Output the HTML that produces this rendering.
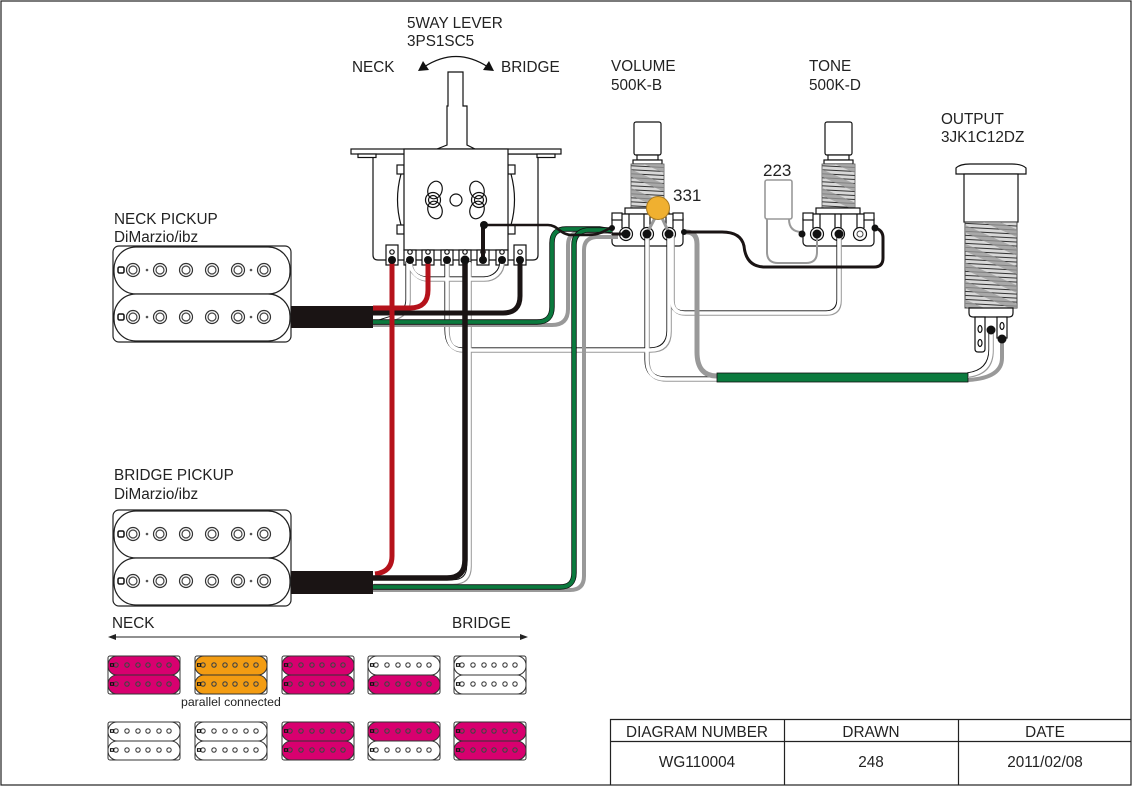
<!DOCTYPE html>
<html><head><meta charset="utf-8"><style>
html,body{margin:0;padding:0;background:#fff;width:1132px;height:787px;overflow:hidden}
svg{display:block}
text{font-family:"Liberation Sans",sans-serif;font-size:15.3px;fill:#222}
.l{fill:none;stroke:#111;stroke-width:1.2}
.f{fill:#fff;stroke:#111;stroke-width:1.2}
.w{fill:none;stroke-linejoin:round}
</style></head><body>
<svg width="1132" height="787" viewBox="0 0 1132 787" xmlns="http://www.w3.org/2000/svg">
<defs>
<pattern id="thr" width="8" height="4" patternUnits="userSpaceOnUse" patternTransform="rotate(3)">
<rect width="8" height="4" fill="#d8d8d8"/><rect y="0" width="8" height="1" fill="#333"/>
</pattern>
<pattern id="dia" width="30" height="17" patternUnits="userSpaceOnUse" patternTransform="rotate(24)">
<rect width="30" height="7" fill="#999" opacity=".75"/>
</pattern>
<g id="hole"><circle r="6.5" fill="#fff" stroke="#333" stroke-width="1.2"/><circle r="4" fill="#fff" stroke="#444" stroke-width="1.2"/></g>
<g id="row">
<use href="#hole" x="133"/><use href="#hole" x="160"/><use href="#hole" x="186"/><use href="#hole" x="212"/><use href="#hole" x="238"/><use href="#hole" x="264"/>
<circle cx="147" r="1.3" fill="#555"/><circle cx="251" r="1.3" fill="#555"/>
<rect x="118" y="-3" width="6" height="6" rx="1.5" fill="#fff" stroke="#111" stroke-width="1.5"/>
</g>
<g id="pick">
<rect x="113" y="0" width="178" height="96" rx="6" fill="#fff" stroke="#222" stroke-width="1.2"/>
<rect x="114" y="1" width="176" height="47" rx="22" fill="#fff" stroke="#222" stroke-width="1.2"/>
<rect x="114" y="48" width="176" height="47" rx="22" fill="#fff" stroke="#222" stroke-width="1.2"/>
<use href="#row" y="24"/><use href="#row" y="71"/>
</g>
<g id="sr" fill="none" stroke="#444" stroke-width="1.1">
<circle cx="8" r="2.2"/><circle cx="19" r="2.2"/><circle cx="30" r="2.2"/><circle cx="40" r="2.2"/><circle cx="51" r="2.2"/><circle cx="61" r="2.2"/>
<rect x="2.5" y="-1.3" width="3" height="2.6" stroke="#111"/>
</g>
<g id="pot">
<rect x="634" y="122" width="27" height="33" rx="2" class="f"/>
<rect x="637" y="155" width="21" height="5" class="f"/>
<rect x="633" y="160" width="29" height="4" class="f"/>
<rect x="631" y="164" width="33" height="44" fill="url(#thr)" stroke="#555" stroke-width=".8"/>
<rect x="631" y="164" width="33" height="44" fill="url(#dia)"/>
<rect x="625" y="208" width="44" height="6" class="f"/>
<rect x="612" y="214" width="71" height="32" rx="4" class="f"/>
<path class="l" d="M622 220V228M629 214V228M644 214V228M650 214V228M666 214V228M673 220V228"/>
<rect x="612" y="213" width="10" height="7" class="f"/><rect x="673" y="213" width="10" height="7" class="f"/>
<circle cx="626" cy="234" r="6.5" class="f"/><circle cx="647" cy="234" r="6.5" class="f"/><circle cx="669" cy="234" r="6.5" class="f"/>
</g>
<path id="wa" d="M410 262C410 272 418 279 428 279H484C494 279 502 272 502 262"/>
<path id="wb" d="M408 262V300Q408 312 396 317L380 322"/>
<path id="wc" d="M447 262V330Q447 350 463 350H650Q669 350 669 331V236"/>
<path id="wd" d="M469 262V566Q469 582 453 582H373"/>
<path id="we" d="M672 236V300Q672 313 685 313H826Q839 313 839 300V236"/>
<path id="wf" d="M647 236V360Q647 379 666 379H717"/>
<path id="wg" d="M991 333V350Q991 372 968 375"/>
</defs>

<rect x="1" y="1" width="1130" height="784" fill="#fff" stroke="#222" stroke-width="1.2"/>

<text x="407" y="28">5WAY LEVER</text><text x="407" y="46">3PS1SC5</text>
<text x="352" y="72">NECK</text><text x="501" y="72">BRIDGE</text>
<text x="611" y="71">VOLUME</text><text x="611" y="90">500K-B</text>
<text x="809" y="71">TONE</text><text x="809" y="90">500K-D</text>
<text x="941" y="124">OUTPUT</text><text x="941" y="142">3JK1C12DZ</text>
<text x="114" y="224">NECK PICKUP</text><text x="114" y="242">DiMarzio/ibz</text>
<text x="114" y="480">BRIDGE PICKUP</text><text x="114" y="499">DiMarzio/ibz</text>
<text x="673" y="201" style="font-size:17px">331</text><text x="763" y="176" style="font-size:17px">223</text>

<path class="l" d="M424 67Q456 46 488 67"/>
<path d="M418 71L429 70L423 61ZM494 71L483 70L489 61Z" fill="#111"/>

<!-- switch -->
<path class="f" d="M373 154V255Q373 260 378 260H533Q538 260 538 255V154Z"/>
<rect x="351" y="149" width="210" height="5" class="f"/>
<rect x="358" y="154" width="18" height="3.5" class="f"/><rect x="537" y="154" width="18" height="3.5" class="f"/>
<path class="f" d="M437 149L447 145V106H448V72H463V106H467V145L475 149Z"/>
<path class="l" d="M401 174Q394 200 401 225M511 174Q518 200 511 225"/>
<rect x="397" y="165" width="7" height="9" class="f"/><rect x="397" y="225" width="7" height="9" class="f"/>
<rect x="508" y="165" width="7" height="9" class="f"/><rect x="508" y="225" width="7" height="9" class="f"/>
<rect x="404" y="149" width="104" height="101" class="f"/>
<circle cx="456" cy="200" r="6" class="f"/>
<ellipse cx="435" cy="190" rx="7" ry="9" class="l" transform="rotate(20 435 190)"/>
<ellipse cx="435" cy="210" rx="7" ry="9" class="l" transform="rotate(-20 435 210)"/>
<circle cx="433" cy="200" r="7.5" class="l"/><circle cx="433" cy="200" r="4.5" class="l"/>
<ellipse cx="477" cy="190" rx="7" ry="9" class="l" transform="rotate(-20 477 190)"/>
<ellipse cx="477" cy="210" rx="7" ry="9" class="l" transform="rotate(20 477 210)"/>
<circle cx="479" cy="200" r="7.5" class="l"/><circle cx="479" cy="200" r="4.5" class="l"/>
<g class="f">
<rect x="386" y="245" width="12" height="20"/><rect x="404" y="250" width="12" height="15"/><rect x="422" y="250" width="12" height="15"/><rect x="441" y="250" width="12" height="15"/><rect x="459" y="250" width="12" height="15"/><rect x="477" y="250" width="12" height="15"/><rect x="496" y="250" width="12" height="15"/><rect x="514" y="245" width="12" height="20"/>
<circle cx="392" cy="252" r="2.2"/><circle cx="410" cy="252" r="2.2"/><circle cx="428" cy="252" r="2.2"/><circle cx="447" cy="252" r="2.2"/><circle cx="465" cy="252" r="2.2"/><circle cx="483" cy="252" r="2.2"/><circle cx="502" cy="252" r="2.2"/><circle cx="520" cy="252" r="2.2"/>
</g>

<!-- pots -->
<use href="#pot"/><use href="#pot" x="191"/>

<!-- jack -->
<path class="f" d="M956 174V168Q960 164 970 164H1012Q1022 164 1026 168V174Z"/>
<rect x="964" y="174" width="54" height="48" class="f"/>
<rect x="965" y="222" width="52" height="86" fill="url(#thr)" stroke="#444" stroke-width="1"/>
<rect x="965" y="222" width="52" height="86" fill="url(#dia)"/>
<path class="f" d="M969 308H1013V313Q1013 317 1009 317H973Q969 317 969 313Z"/>
<path class="f" d="M975 317H985V349Q985 352 982 352H978Q975 352 975 349Z"/>
<rect x="997" y="317" width="10" height="21" class="f"/>
<ellipse cx="980" cy="329" rx="2" ry="3.5" class="l"/><ellipse cx="980" cy="343" rx="2" ry="3.5" class="l"/><ellipse cx="1002" cy="326" rx="2" ry="3.5" class="l"/>

<!-- pickups -->
<use href="#pick" y="246"/><use href="#pick" y="510"/>

<!-- white wires -->
<g class="w">
<g stroke="#111" stroke-width="4" transform="translate(-.6,-.6)"><use href="#wa"/><use href="#wb"/><use href="#wc"/><use href="#wd"/><use href="#we"/><use href="#wf"/><use href="#wg"/></g>
<g stroke="#999" stroke-width="4" transform="translate(.8,.8)"><use href="#wa"/><use href="#wb"/><use href="#wc"/><use href="#wd"/><use href="#we"/><use href="#wf"/><use href="#wg"/></g>
<g stroke="#fff" stroke-width="3.6"><use href="#wa"/><use href="#wb"/><use href="#wc"/><use href="#wd"/><use href="#we"/><use href="#wf"/><use href="#wg"/></g>
</g>

<!-- gray wires -->
<g class="w" stroke="#999">
<path stroke-width="4" d="M373 325H552Q568 325 568 309V245Q568 233 580 232H612"/>
<path stroke-width="4" d="M373 590H570Q584 590 584 576V250Q584 238 596 237H618"/>
<path stroke-width="5" d="M686 232Q697 232 697 244V352Q697 376 717 376"/>
<path stroke-width="4" d="M1002 342V358Q1002 378 968 380"/>
<path stroke-width="2" d="M789 219Q789 232 802 232M767 219V252Q767 263 778 263H806Q817 263 817 252V236"/>
<path stroke-width="3" d="M655 218L647 233M662 218L669 233"/>
</g>
<rect x="765" y="180" width="27" height="39" rx="2" fill="#fff" stroke="#999" stroke-width="1.6"/>

<!-- green -->
<g class="w">
<path stroke="#111" stroke-width="5.4" d="M373 322H537Q552 322 552 307V243Q552 229 566 229H600L612 231"/>
<path stroke="#0b7a3e" stroke-width="3.8" d="M373 322H537Q552 322 552 307V243Q552 229 566 229H600L612 231"/>
<path stroke="#111" stroke-width="5.4" d="M373 587H560Q574 587 574 573V245Q574 232 587 230H612"/>
<path stroke="#0b7a3e" stroke-width="3.8" d="M373 587H560Q574 587 574 573V245Q574 232 587 230H612"/>
</g>
<rect x="717" y="373" width="251" height="9" fill="#0b7a3e" stroke="#111" stroke-width=".8"/>

<!-- black/red -->
<g class="w">
<path stroke="#b5121b" stroke-width="5" d="M373 308H410Q428 308 428 290V262"/>
<path stroke="#1a1414" stroke-width="5" d="M373 313H503Q520 313 520 296V260"/>
<path stroke="#b5121b" stroke-width="5" d="M392 260V556Q392 572 375 574"/>
<path stroke="#1a1414" stroke-width="5.5" d="M465 260V560Q465 578 447 578H373"/>
<path stroke="#1a1414" stroke-width="4" d="M483 226V260"/>
<path stroke="#1a1414" stroke-width="2.6" d="M484 225H548C558 225 560 235 572 235H585C596 235 600 234 610 228"/>
<path stroke="#1a1414" stroke-width="3" d="M612 234H626M686 232H722Q741 232 744 246Q746 267 765 267H874Q883 267 883 258V238Q883 230 875 228"/>
</g>
<rect x="291" y="306" width="82" height="22" fill="#1a1414"/>
<rect x="291" y="571" width="82" height="23" fill="#1a1414"/>

<!-- dots -->
<g fill="#111">
<circle cx="392" cy="260" r="4"/><circle cx="410" cy="260" r="4"/><circle cx="428" cy="260" r="4"/><circle cx="447" cy="260" r="4"/><circle cx="465" cy="260" r="4.5"/><circle cx="483" cy="260" r="4"/><circle cx="502" cy="260" r="4"/><circle cx="520" cy="260" r="4"/><circle cx="484" cy="225" r="4"/>
<circle cx="626" cy="234" r="4.5"/><circle cx="647" cy="234" r="4.5"/><circle cx="669" cy="234" r="4.5"/><circle cx="684" cy="232" r="3"/><circle cx="612" cy="228" r="3"/>
<circle cx="817" cy="234" r="4.5"/><circle cx="839" cy="234" r="4.5"/><circle cx="802" cy="234" r="3.5"/><circle cx="875" cy="228" r="3.5"/>
<circle cx="991" cy="330" r="4.5"/><circle cx="1002" cy="339" r="4.5"/>
</g>
<circle cx="860" cy="234" r="3" fill="#fff" stroke="#444"/>
<circle cx="658" cy="208" r="11.5" fill="#f0b030" stroke="#a87a20" stroke-width="1"/>

<!-- legend -->
<text x="112" y="628">NECK</text><text x="452" y="628">BRIDGE</text>
<path d="M112 637H524" stroke="#222" stroke-width="1"/>
<path d="M108 637L116 634V640ZM528 637L520 634V640Z" fill="#222"/>
<text x="181" y="706" style="font-size:12.3px">parallel connected</text>

<!-- small pickups -->
<g stroke="#333" stroke-width="1">
<g id="s1"><rect x="108" y="656" width="72" height="38" rx="2" fill="#fff"/><rect x="108" y="656" width="72" height="19" rx="9" fill="#d8006f"/><rect x="108" y="675" width="72" height="19" rx="9" fill="#d8006f"/></g>
<rect x="195" y="656" width="72" height="38" rx="2" fill="#fff"/><rect x="195" y="656" width="72" height="19" rx="9" fill="#f39c12"/><rect x="195" y="675" width="72" height="19" rx="9" fill="#f39c12"/>
<use href="#s1" x="174"/>
<rect x="368" y="656" width="72" height="38" rx="2" fill="#fff"/><rect x="368" y="656" width="72" height="19" rx="9" fill="#fff"/><rect x="368" y="675" width="72" height="19" rx="9" fill="#d8006f"/>
<rect x="454" y="656" width="72" height="38" rx="2" fill="#fff"/><rect x="454" y="656" width="72" height="19" rx="9" fill="#fff"/><rect x="454" y="675" width="72" height="19" rx="9" fill="#fff"/>
<rect x="108" y="722" width="72" height="38" rx="2" fill="#fff"/><rect x="108" y="722" width="72" height="19" rx="9" fill="#fff"/><rect x="108" y="741" width="72" height="19" rx="9" fill="#fff"/>
<rect x="195" y="722" width="72" height="38" rx="2" fill="#fff"/><rect x="195" y="722" width="72" height="19" rx="9" fill="#fff"/><rect x="195" y="741" width="72" height="19" rx="9" fill="#fff"/>
<use href="#s1" x="174" y="66"/>
<rect x="368" y="722" width="72" height="38" rx="2" fill="#fff"/><rect x="368" y="722" width="72" height="19" rx="9" fill="#d8006f"/><rect x="368" y="741" width="72" height="19" rx="9" fill="#fff"/>
<use href="#s1" x="346" y="66"/>
</g>
<use href="#sr" x="108" y="665"/><use href="#sr" x="108" y="684"/><use href="#sr" x="195" y="665"/><use href="#sr" x="195" y="684"/><use href="#sr" x="282" y="665"/><use href="#sr" x="282" y="684"/><use href="#sr" x="368" y="665"/><use href="#sr" x="368" y="684"/><use href="#sr" x="454" y="665"/><use href="#sr" x="454" y="684"/>
<use href="#sr" x="108" y="731"/><use href="#sr" x="108" y="750"/><use href="#sr" x="195" y="731"/><use href="#sr" x="195" y="750"/><use href="#sr" x="282" y="731"/><use href="#sr" x="282" y="750"/><use href="#sr" x="368" y="731"/><use href="#sr" x="368" y="750"/><use href="#sr" x="454" y="731"/><use href="#sr" x="454" y="750"/>

<!-- title table -->
<path d="M610.5 785V719.5H1131M610 741.5H1131M784.5 719V785M958.5 719V785" fill="none" stroke="#222" stroke-width="1.2"/>
<g text-anchor="middle">
<text x="697" y="737">DIAGRAM NUMBER</text><text x="871" y="737">DRAWN</text><text x="1045" y="737">DATE</text>
<text x="697" y="767">WG110004</text><text x="871" y="767">248</text><text x="1045" y="767">2011/02/08</text>
</g>
</svg>
</body></html>
